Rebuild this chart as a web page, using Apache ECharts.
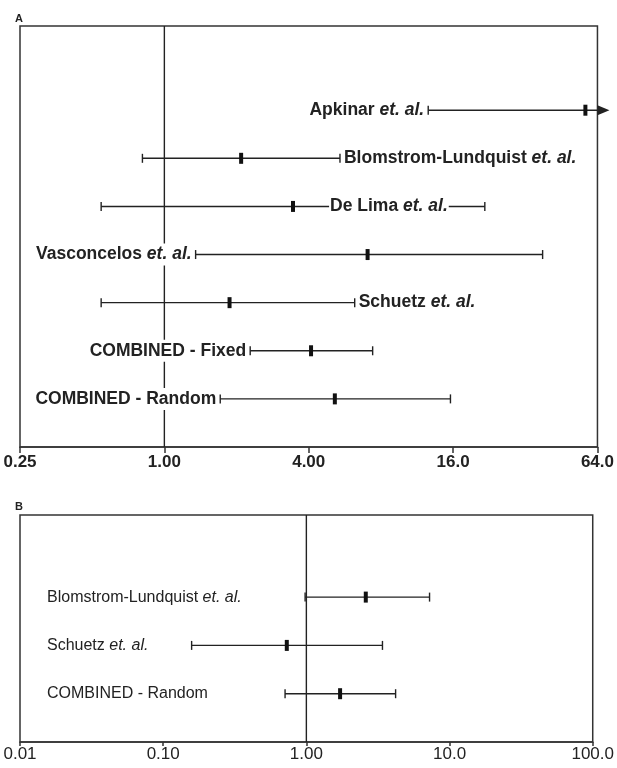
<!DOCTYPE html>
<html>
<head>
<meta charset="utf-8">
<script src="https://cdn.jsdelivr.net/npm/echarts@6/dist/echarts.min.js"></script>
<style>
  html, body { margin: 0; padding: 0; background: #fff; }
  #chart { width: 617px; height: 768px; }
</style>
</head>
<body>
<div id="chart"></div>
<script>
// Panel A: log scale 0.25 - 64
const studiesA = ['Apkinar', 'Blomstrom-Lundquist', 'De Lima', 'Vasconcelos', 'Schuetz', 'COMBINED - Fixed', 'COMBINED - Random'];
const etAlA = [true, true, true, true, true, false, false];
const estA = [57, 2.09, 3.44, 7.04, 1.87, 4.09, 5.14];
const lowA = [12.6, 0.81, 0.545, 1.35, 0.545, 2.28, 1.71];
const highA = [200, 5.4, 21.7, 37.8, 6.22, 7.39, 15.6]; // Apkinar upper limit is off the scale (arrow)
const ticksA = [0.25, 1, 4, 16, 64];
const tickLabelsA = ['0.25', '1.00', '4.00', '16.0', '64.0'];

// Panel B: log scale 0.01 - 100
const studiesB = ['Blomstrom-Lundquist', 'Schuetz', 'COMBINED - Random'];
const etAlB = [true, true, false];
const estB = [2.6, 0.73, 1.72];
const lowB = [0.98, 0.158, 0.71];
const highB = [7.25, 3.4, 4.2];
const ticksB = [0.01, 0.1, 1, 10, 100];
const tickLabelsB = ['0.01', '0.10', '1.00', '10.0', '100.0'];

const refValue = 1; // line of no effect

// where each study name sits in panel A
const labelSideA = ['left', 'right', 'mid', 'left', 'right', 'left', 'left'];

const FONT = '"Liberation Sans", Arial, sans-serif';
const INK = '#222';

const chart = echarts.init(document.getElementById('chart'));

function tickFmt(ticks, labels) {
  return function (v) {
    const k = ticks.findIndex(t => Math.abs(Math.log(t) - Math.log(v)) < 1e-6);
    return k >= 0 ? labels[k] : '';
  };
}

function makeRender(names, etAl, sides, textStyle) {
  return function (params, api) {
    const i = params.dataIndex;
    const row = api.value(0);
    const lo = api.coord([api.value(1), row]);
    const est = api.coord([api.value(2), row]);
    const hi = api.coord([api.value(3), row]);
    const cs = params.coordSys;
    const right = cs.x + cs.width;
    const clipped = hi[0] > right + 0.5;
    const hiX = clipped ? right : hi[0];
    const y = lo[1];
    const stroke = { stroke: INK, lineWidth: 1.4 };
    const kids = [];

    kids.push({ type: 'line', shape: { x1: lo[0], y1: y, x2: hiX, y2: y }, style: stroke });
    kids.push({ type: 'line', shape: { x1: lo[0], y1: y - 4.5, x2: lo[0], y2: y + 4.5 }, style: stroke });
    if (clipped) {
      kids.push({ type: 'polygon', shape: { points: [[right, y - 5], [right + 12, y], [right, y + 5]] }, style: { fill: INK } });
    } else {
      kids.push({ type: 'line', shape: { x1: hiX, y1: y - 4.5, x2: hiX, y2: y + 4.5 }, style: stroke });
    }
    kids.push({ type: 'rect', shape: { x: est[0] - 2, y: y - 5.5, width: 4, height: 11 }, style: { fill: '#111' } });

    const side = sides ? sides[i] : 'column';
    let x, align;
    if (side === 'left') { x = lo[0] - 3; align = 'right'; }
    else if (side === 'right') { x = hiX + 3; align = 'left'; }
    else if (side === 'mid') { x = (est[0] + hiX) / 2; align = 'center'; }
    else { x = cs.x + 26; align = 'left'; }

    const txt = etAl[i] ? '{n|' + names[i] + ' }{i|et. al.}' : '{n|' + names[i] + '}';
    kids.push({
      type: 'text',
      z2: 10,
      style: {
        text: txt,
        x: x, y: y,
        align: align,
        verticalAlign: 'middle',
        backgroundColor: '#fff',
        padding: [2, 1],
        rich: {
          n: Object.assign({}, textStyle),
          i: Object.assign({}, textStyle, { fontStyle: 'italic' })
        }
      }
    });
    return { type: 'group', children: kids };
  };
}

function rows(low, est, high) {
  return est.map((e, i) => [i, low[i], e, high[i]]);
}

const yA = { min: -1.75, max: 7 };
const yB = { min: -1.7, max: 3 };

function xAxisBase(grid, base, min, max, ticks, labels, bold, tickLen, margin) {
  return {
    gridIndex: grid, type: 'log', logBase: base, min: min, max: max,
    axisLine: { show: true, onZero: false, lineStyle: { color: '#333', width: 1.5 } },
    axisTick: { show: true, inside: false, length: tickLen, lineStyle: { color: '#333', width: 1.5 } },
    axisLabel: {
      formatter: tickFmt(ticks, labels), fontFamily: FONT, fontSize: 17,
      fontWeight: bold ? 'bold' : 'normal', color: INK, margin: margin
    },
    splitLine: { show: false }
  };
}

chart.setOption({
  animation: false,
  backgroundColor: '#fff',
  title: [
    { text: 'A', left: 10, top: 8, textStyle: { fontFamily: FONT, fontSize: 11, fontWeight: 'bold', color: INK } },
    { text: 'B', left: 10, top: 496, textStyle: { fontFamily: FONT, fontSize: 11, fontWeight: 'bold', color: INK } }
  ],
  grid: [
    { left: 20, right: 16, top: 26, bottom: 321, show: true, borderColor: '#333', borderWidth: 1.5 },
    { left: 20, right: 19, top: 515, bottom: 26, show: true, borderColor: '#333', borderWidth: 1.5 }
  ],
  xAxis: [
    xAxisBase(0, 4, 0.25, 64, ticksA, tickLabelsA, true, 6, 7),
    xAxisBase(1, 10, 0.01, 100, ticksB, tickLabelsB, false, 4, 4)
  ],
  yAxis: [
    { gridIndex: 0, type: 'value', inverse: true, min: yA.min, max: yA.max, show: false },
    { gridIndex: 1, type: 'value', inverse: true, min: yB.min, max: yB.max, show: false }
  ],
  series: [
    {
      type: 'line', xAxisIndex: 0, yAxisIndex: 0, z: 1, silent: true, showSymbol: false,
      data: [[refValue, yA.min], [refValue, yA.max]],
      lineStyle: { color: INK, width: 1.4 }
    },
    {
      type: 'line', xAxisIndex: 1, yAxisIndex: 1, z: 1, silent: true, showSymbol: false,
      data: [[refValue, yB.min], [refValue, yB.max]],
      lineStyle: { color: INK, width: 1.4 }
    },
    {
      type: 'custom', xAxisIndex: 0, yAxisIndex: 0, z: 2, clip: false,
      encode: { x: [1, 2, 3], y: 0 },
      data: rows(lowA, estA, highA),
      renderItem: makeRender(studiesA, etAlA, labelSideA,
        { fontFamily: FONT, fontSize: 17.5, fontWeight: 'bold', fill: INK, color: INK })
    },
    {
      type: 'custom', xAxisIndex: 1, yAxisIndex: 1, z: 2, clip: false,
      encode: { x: [1, 2, 3], y: 0 },
      data: rows(lowB, estB, highB),
      renderItem: makeRender(studiesB, etAlB, null,
        { fontFamily: FONT, fontSize: 16, fontWeight: 'normal', fill: INK, color: INK })
    }
  ]
});

window.addEventListener('resize', () => chart.resize());
</script>
</body>
</html>
